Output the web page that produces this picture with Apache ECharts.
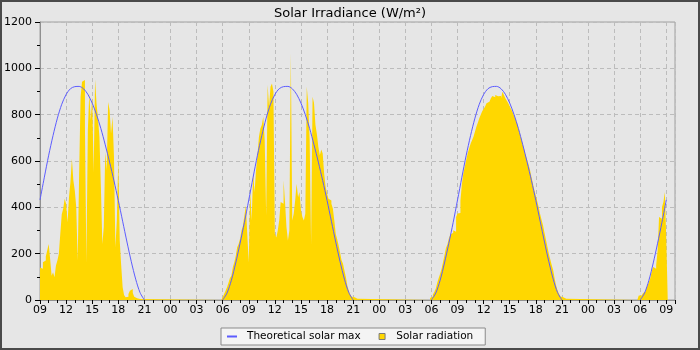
<!DOCTYPE html>
<html>
<head>
<meta charset="utf-8">
<script src="https://cdn.jsdelivr.net/npm/echarts@6/dist/echarts.min.js"></script>
<style>
  html, body { margin: 0; padding: 0; background: #e6e6e6; }
  #chart { width: 700px; height: 350px; }
</style>
</head>
<body>
<div id="chart"></div>
<script>
// x values are hours elapsed since 09:00 on the first day.
const AXIS_HOURS = 73;
const STEP_MIN = 10;          // radiation logging interval, minutes
const FIRST_HOUR = 9;

// Hour labels for the 3-hourly ticks.
const xTickLabels = ['09','12','15','18','21','00','03','06',
                     '09','12','15','18','21','00','03','06',
                     '09','12','15','18','21','00','03','06','09'];

// Measured solar radiation (W/m²), 10-minute slots.
// Each block starts at the given slot index (slot 0 = 09:00 day 1).
const day1Start = 0;    // 09:00
const day1Radiation = [140,135,163,170,188,215,242,177,105,120,98,149,170,200,286,370,394,437,416,336,
  444,509,610,517,473,401,170,545,877,942,950,747,163,733,892,776,877,553,952,848,
  784,704,488,242,315,639,560,855,820,719,791,625,228,343,610,257,150,55,22,12,
  14,26,40,48,30,14,8,4,4,3];

const day2Start = 125;  // 05:50
const day2Radiation = [4,12,26,40,55,75,95,105,141,163,190,228,242,264,300,320,365,408,279,163,
  473,343,545,466,560,625,704,740,755,791,690,365,928,834,921,935,900,286,270,300,
  343,423,416,517,423,315,257,300,1065,343,372,430,502,444,466,387,358,343,372,921,
  850,690,242,877,850,755,715,660,625,650,632,545,490,459,437,430,416,395,343,285,
  262,235,205,172,156,127,98,62,40,24,14,12,9,5];

const day3Start = 269;  // 05:50
const day3Radiation = [9,15,24,34,50,75,95,113,135,164,193,225,240,265,282,290,301,295,358,373,
  376,430,500,546,575,604,633,654,675,690,705,726,748,765,785,800,815,825,835,849,
  856,864,871,881,875,885,880,878,881,871,899,885,871,860,849,835,823,810,795,780,
  765,741,719,695,670,650,625,605,585,561,532,503,474,450,425,400,370,345,322,290,
  260,230,200,175,150,128,92,63,41,27,15,12,9,5];

const day4Start = 412;  // 05:40
const day4Radiation = [5,19,19,25,30,38,52,62,78,95,125,142,135,150,214,358,351,400,423,466,257];

// Theoretical clear-sky maximum (W/m²) over one day, half-hourly.
const maxHours  = [6,6.5,7,7.5,8,8.5,9,9.5,10,10.5,11,11.5,12,12.5,13,13.5,
                   14,14.5,15,15.5,16,16.5,17,17.5,18,18.5,19,19.5,20,20.5,21];
const maxValues = [0,30,85,160,245,335,432,530,625,710,785,845,887,912,921,922,
                   912,888,850,800,740,670,595,515,430,340,250,165,90,32,0];

// ---- build series data ----
const radiation = [];
function addBlock(start, values) {
  values.forEach((v, i) => radiation.push([(start + i) * STEP_MIN / 60, v]));
  radiation.push([(start + values.length) * STEP_MIN / 60, 0]);
}
addBlock(day1Start, day1Radiation);
addBlock(day2Start, day2Radiation);
addBlock(day3Start, day3Radiation);
addBlock(day4Start, day4Radiation);

const maxLine = [];
for (let d = 0; d < 4; d++) {
  maxHours.forEach((h, i) => {
    const t = d * 24 + h - FIRST_HOUR;
    if (t >= 0 && t <= 72) maxLine.push([t, maxValues[i]]);
  });
  maxLine.push([d * 24 + 21.5 - FIRST_HOUR, null]); // no line overnight
}

const FONT = 'DejaVu Sans';
const chart = echarts.init(document.getElementById('chart'), null, { renderer: 'canvas' });
chart.setOption({
  backgroundColor: '#e6e6e6',
  animation: false,
  textStyle: { fontFamily: FONT },
  title: {
    text: 'Solar Irradiance (W/m²)',
    left: 'center', top: 2,
    textStyle: { fontFamily: FONT, fontSize: 13, fontWeight: 'normal', color: '#000' }
  },
  legend: {
    left: 221, top: 328,
    padding: [3, 12, 3, 6],
    itemGap: 15,
    itemWidth: 15, itemHeight: 7,
    backgroundColor: '#f4f4f4',
    borderColor: '#8a8a8a', borderWidth: 1, borderRadius: 0,
    textStyle: { fontFamily: FONT, fontSize: 10.5, color: '#000' },
    data: [
      { name: 'Theoretical solar max',
        icon: 'path://M0,0M15,7M0,2.5L10,2.5L10,4.5L0,4.5Z',
        itemStyle: { color: '#5c5cff', borderWidth: 0 } },
      { name: 'Solar radiation',
        icon: 'path://M0,0M15,7M2.8,0.5L8.8,0.5L8.8,6.5L2.8,6.5Z',
        itemStyle: { color: '#ffd700', borderColor: '#7a7a7a', borderWidth: 1 } }
    ]
  },
  grid: {
    left: 40, right: 25, top: 22, bottom: 50,
    show: true, borderColor: '#a0a0a0', borderWidth: 1, backgroundColor: 'transparent'
  },
  xAxis: {
    type: 'value', min: 0, max: AXIS_HOURS, interval: 3,
    axisLine: { show: true, lineStyle: { color: '#909090' } },
    axisTick: { show: true, length: 4, lineStyle: { color: '#000' } },
    minorTick: { show: true, splitNumber: 3, length: 3, lineStyle: { color: '#000' } },
    axisLabel: {
      margin: 5, fontSize: 11, color: '#000', fontFamily: FONT,
      formatter: v => (v % 3 === 0 && v / 3 < xTickLabels.length) ? xTickLabels[v / 3] : ''
    },
    splitLine: { show: true, lineStyle: { color: '#bcbcbc', type: [4, 3] } }
  },
  yAxis: {
    type: 'value', min: 0, max: 1200, interval: 200,
    axisLine: { show: true, lineStyle: { color: '#909090' } },
    axisTick: { show: true, length: 5, lineStyle: { color: '#000' } },
    minorTick: { show: true, splitNumber: 2, length: 3, lineStyle: { color: '#000' } },
    axisLabel: { margin: 8, fontSize: 11, color: '#000', fontFamily: FONT, formatter: v => String(v) },
    splitLine: { show: true, lineStyle: { color: '#bcbcbc', type: [4, 3] } }
  },
  series: [
    {
      name: 'Solar radiation',
      type: 'line',
      step: 'end',
      data: radiation,
      symbol: 'none',
      color: '#ffd700',
      lineStyle: { width: 0 },
      areaStyle: { color: '#ffd700', opacity: 1 },
      z: 2
    },
    {
      name: 'Theoretical solar max',
      type: 'line',
      data: maxLine,
      symbol: 'none',
      smooth: 0.3,
      connectNulls: false,
      color: '#5c5cff',
      lineStyle: { color: '#5c5cff', width: 1 },
      z: 3
    }
  ],
  graphic: [{
    type: 'rect', z: 100, silent: true,
    shape: { x: 1, y: 1, width: 698, height: 348 },
    style: { fill: 'none', stroke: '#4a4a4a', lineWidth: 2 }
  }]
});
</script>
</body>
</html>
